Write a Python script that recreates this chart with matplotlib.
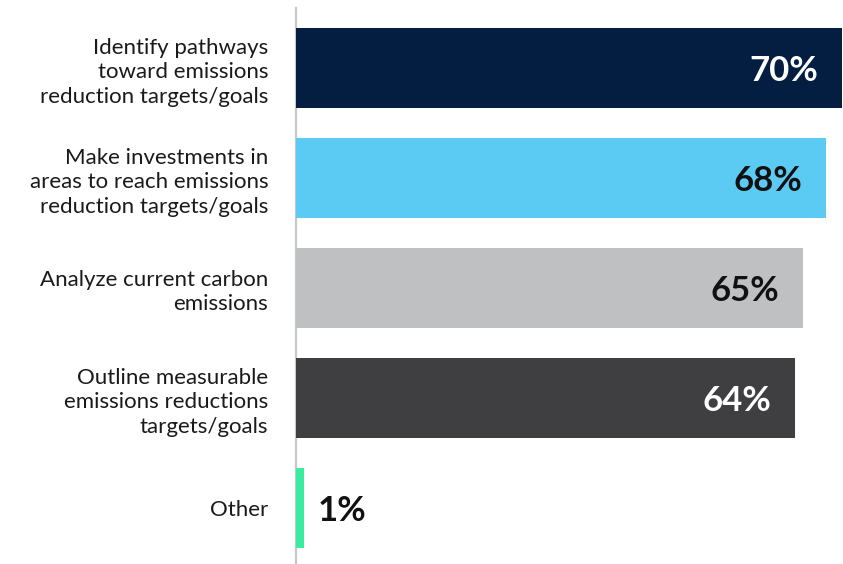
import matplotlib
matplotlib.use("Agg")
import matplotlib.pyplot as plt

categories = [
    "Identify pathways\ntoward emissions\nreduction targets/goals",
    "Make investments in\nareas to reach emissions\nreduction targets/goals",
    "Analyze current carbon\nemissions",
    "Outline measurable\nemissions reductions\ntargets/goals",
    "Other",
]
values = [70, 68, 65, 64, 1]
bar_colors = ["#041e42", "#5ccbf4", "#bfc0c2", "#3f3f41", "#3beb9f"]
label_colors = ["white", "#111111", "#111111", "white", "#111111"]

W, H, DPI = 843, 564, 100
fig = plt.figure(figsize=(W / DPI, H / DPI), dpi=DPI)
left_px, right_px, top_px, bottom_px = 296, 843, 8, 564
ax = fig.add_axes([left_px / W, 1 - bottom_px / H,
                   (right_px - left_px) / W, (bottom_px - top_px) / H])

pos = list(range(len(categories)))
ax.barh(pos, values, height=0.727, color=bar_colors, zorder=3)

ax.set_xlim(0, 70.13)
ax.set_ylim(4.509, -0.545)

for s in ["top", "right", "bottom"]:
    ax.spines[s].set_visible(False)
ax.spines["left"].set_color("#c8c8c8")
ax.spines["left"].set_linewidth(1.6)
ax.spines["left"].set_zorder(2)

ax.set_xticks([])
ax.set_yticks(pos)
ax.set_yticklabels(categories, fontsize=16, color="#1a1a1a",
                   family=["Lato", "DejaVu Sans"], linespacing=1.28)
ax.tick_params(axis="y", length=0, pad=20)

for p, v, c in zip(pos, values, label_colors):
    txt = f"{v}%"
    inside = v > 10
    ax.annotate(txt, (v, p), xytext=(-17 if inside else 10, -2.5),
                textcoords="offset points",
                ha="right" if inside else "left", va="center",
                fontsize=25, fontweight="bold", color=c,
                family=["Lato", "DejaVu Sans"], zorder=4)

fig.savefig("out.png", dpi=DPI)
